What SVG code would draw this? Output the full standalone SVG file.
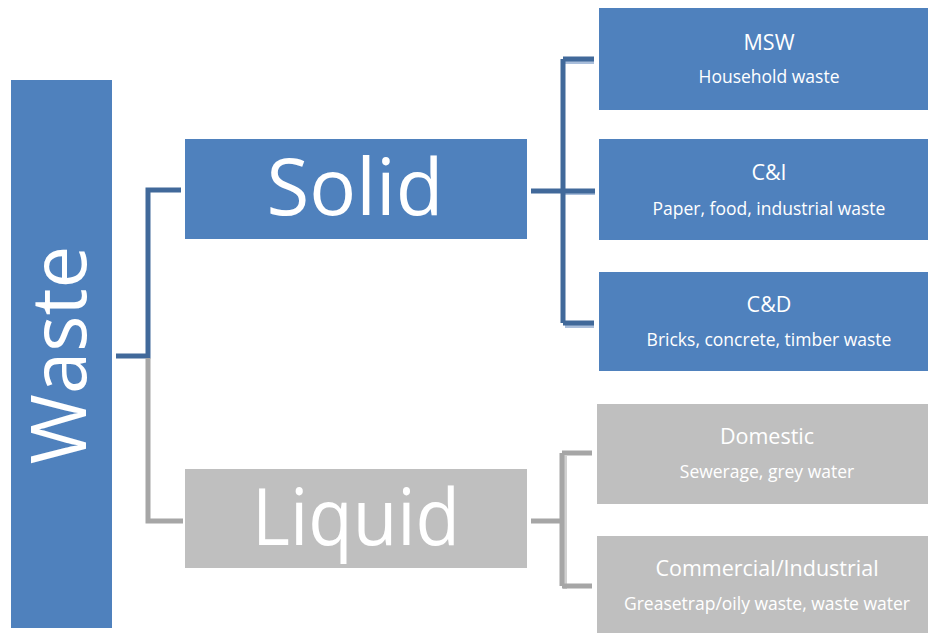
<svg xmlns="http://www.w3.org/2000/svg" width="928" height="633" viewBox="0 0 928 633">
<style>
.blue{fill:#4f81bd}
.grey{fill:#bfbfbf}
.t{font-family:"Open Sans","Liberation Sans",sans-serif;fill:#ffffff;text-anchor:middle}
.big{font-size:78px}
.h{font-size:21.5px}
.s{font-size:17.5px}
.cb{fill:none;stroke:#41699a;stroke-width:5}
.cg{fill:none;stroke:#a6a6a6;stroke-width:5}
.cbs{fill:none;stroke:#a9bedb;stroke-width:4}
.cgs{fill:none;stroke:#d0d0d0;stroke-width:4}
</style>
<rect width="928" height="633" fill="#ffffff"/>
<g id="connectors">
<path class="cbs" d="M565 62 H594 M565 193 H595 M565 326 H594"/>
<path class="cb" d="M116 356 H148 V190 H181"/>
<path class="cg" d="M148 358 V521 H183"/>
<path class="cb" d="M563 59 V323 M563 59 H594 M531 191 H595 M563 323 H594"/>
<path class="cgs" d="M565 456 V589"/>
<path class="cg" d="M562 453 V586 M562 453 H592 M531 521 H563 M562 586 H592"/>
</g>
<g id="waste">
<rect class="blue" x="11" y="80" width="101" height="548"/>
<text class="t" style="font-size:76px" transform="translate(86,355) rotate(-90)">Waste</text>
</g>
<g id="solid">
<rect class="blue" x="185" y="139" width="342" height="100"/>
<text class="t big" x="355" y="215">Solid</text>
</g>
<g id="liquid">
<rect class="grey" x="185" y="469" width="342" height="99"/>
<text class="t big" x="356" y="545" textLength="208" lengthAdjust="spacingAndGlyphs">Liquid</text>
</g>
<g id="msw">
<rect class="blue" x="599" y="8" width="329" height="102"/>
<text class="t h" x="769" y="50">MSW</text>
<text class="t s" x="769" y="83">Household waste</text>
</g>
<g id="ci">
<rect class="blue" x="599" y="139" width="329" height="101"/>
<text class="t h" x="769" y="180">C&amp;I</text>
<text class="t s" x="769" y="215">Paper, food, industrial waste</text>
</g>
<g id="cd">
<rect class="blue" x="599" y="272" width="329" height="99"/>
<text class="t h" x="769" y="312">C&amp;D</text>
<text class="t s" x="769" y="346">Bricks, concrete, timber waste</text>
</g>
<g id="domestic">
<rect class="grey" x="597" y="404" width="331" height="100"/>
<text class="t h" x="767" y="444">Domestic</text>
<text class="t s" x="767" y="478">Sewerage, grey water</text>
</g>
<g id="commercial">
<rect class="grey" x="597" y="536" width="331" height="97"/>
<text class="t h" x="767" y="576">Commercial/Industrial</text>
<text class="t s" x="767" y="610">Greasetrap/oily waste, waste water</text>
</g>
</svg>
